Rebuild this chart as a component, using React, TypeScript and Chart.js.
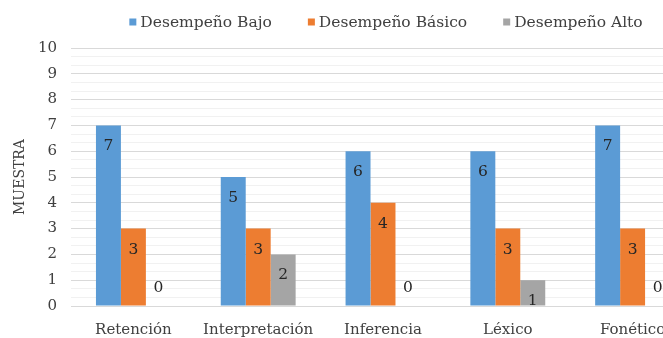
import React, { useEffect, useRef } from "react";
import { Chart, registerables } from "chart.js";

Chart.register(...registerables);

const categories = ["Retención", "Interpretación", "Inferencia", "Léxico", "Fonético"];
const seriesNames = ["Desempeño Bajo", "Desempeño Básico", "Desempeño Alto"];
const bajo = [7, 5, 6, 6, 7];
const basico = [3, 3, 4, 3, 3];
const alto = [0, 2, 0, 1, 0];
const colors = ["#5B9BD5", "#ED7D31", "#A5A5A5"];
const yTickValues = [0, 1, 2, 3, 4, 5, 6, 7, 8, 9, 10];

const FONT = "'DejaVu Serif', serif";
const TEXT = "#404040";

const legendPlugin = {
  id: "customLegend",
  afterDraw(chart: any) {
    const ctx = chart.ctx;
    const ds = chart.data.datasets;
    ctx.save();
    ctx.font = `15.5px ${FONT}`;
    const box = 7;
    const gap = 4;
    const spacing = 36;
    const widths = ds.map((d: any) => ctx.measureText(d.label).width);
    const total = widths.reduce((a: number, w: number) => a + box + gap + w, 0) + spacing * (ds.length - 1);
    const ca = chart.chartArea;
    let x = (ca.left + ca.right) / 2 + 3 - total / 2;
    const y = 22;
    ds.forEach((d: any, i: number) => {
      ctx.fillStyle = d.backgroundColor;
      ctx.fillRect(x, y - box / 2, box, box);
      ctx.fillStyle = TEXT;
      ctx.textBaseline = "middle";
      ctx.textAlign = "left";
      ctx.fillText(d.label, x + box + gap, y + 1);
      x += box + gap + widths[i] + spacing;
    });
    ctx.restore();
  },
};

const labelPlugin = {
  id: "valueLabels",
  afterDatasetsDraw(chart: any) {
    const ctx = chart.ctx;
    ctx.save();
    ctx.font = `15.5px ${FONT}`;
    ctx.fillStyle = "#262626";
    ctx.textAlign = "center";
    ctx.textBaseline = "middle";
    chart.data.datasets.forEach((d: any, di: number) => {
      const meta = chart.getDatasetMeta(di);
      meta.data.forEach((el: any, i: number) => {
        const v = d.data[i];
        const y = v === 0 ? el.y - 18 : el.y + 21;
        ctx.fillText(String(v), el.x, y);
      });
    });
    ctx.restore();
  },
};

export default function App() {
  const ref = useRef<HTMLCanvasElement>(null);
  useEffect(() => {
    if (!ref.current) return;
    const chart = new Chart(ref.current, {
      type: "bar",
      data: {
        labels: categories,
        datasets: [bajo, basico, alto].map((data, i) => ({
          label: seriesNames[i],
          data,
          backgroundColor: colors[i],
          borderWidth: 0,
          categoryPercentage: 0.6,
          barPercentage: 1,
        })),
      },
      options: {
        animation: false,
        responsive: false,
        events: [],
        layout: { padding: { top: 48, right: 5, left: 0, bottom: 0 } },
        plugins: { legend: { display: false }, tooltip: { enabled: false } },
        scales: {
          x: {
            grid: { display: false, drawTicks: false },
            border: { display: false },
            ticks: { padding: 15, color: TEXT, font: { family: FONT, size: 15 }, maxRotation: 0 },
          },
          y: {
            min: 0,
            max: 10,
            afterFit: (scale: any) => {
              scale.width = 71;
            },
            afterBuildTicks: (scale: any) => {
              const t: any[] = [];
              yTickValues.forEach((v, i) => {
                t.push({ value: v });
                if (i < yTickValues.length - 1) {
                  t.push({ value: v + 1 / 3 });
                  t.push({ value: v + 2 / 3 });
                }
              });
              scale.ticks = t;
            },
            border: { display: false },
            grid: {
              drawTicks: false,
              color: (c: any) => {
                const v = c.tick ? c.tick.value : 0;
                return Math.abs(v - Math.round(v)) < 1e-6 ? "#d9d9d9" : "#f1f1f1";
              },
            },
            ticks: {
              autoSkip: false,
              padding: 14,
              color: TEXT,
              font: { family: FONT, size: 15 },
              callback: (v: any) => (Math.abs(v - Math.round(v)) < 1e-6 ? String(Math.round(v)) : ""),
            },
            title: {
              display: true,
              text: "MUESTRA",
              color: TEXT,
              font: { family: FONT, size: 14 },
              padding: { top: 12, bottom: 0 },
            },
          },
        },
      },
      plugins: [legendPlugin, labelPlugin],
    });
    return () => chart.destroy();
  }, []);
  return (
    <div style={{ position: "fixed", left: 0, top: 0, width: 663, height: 338, overflow: "hidden", background: "#fff" }}>
      <canvas ref={ref} width={700} height={354} style={{ width: 700, height: 354, display: "block" }} />
    </div>
  );
}
